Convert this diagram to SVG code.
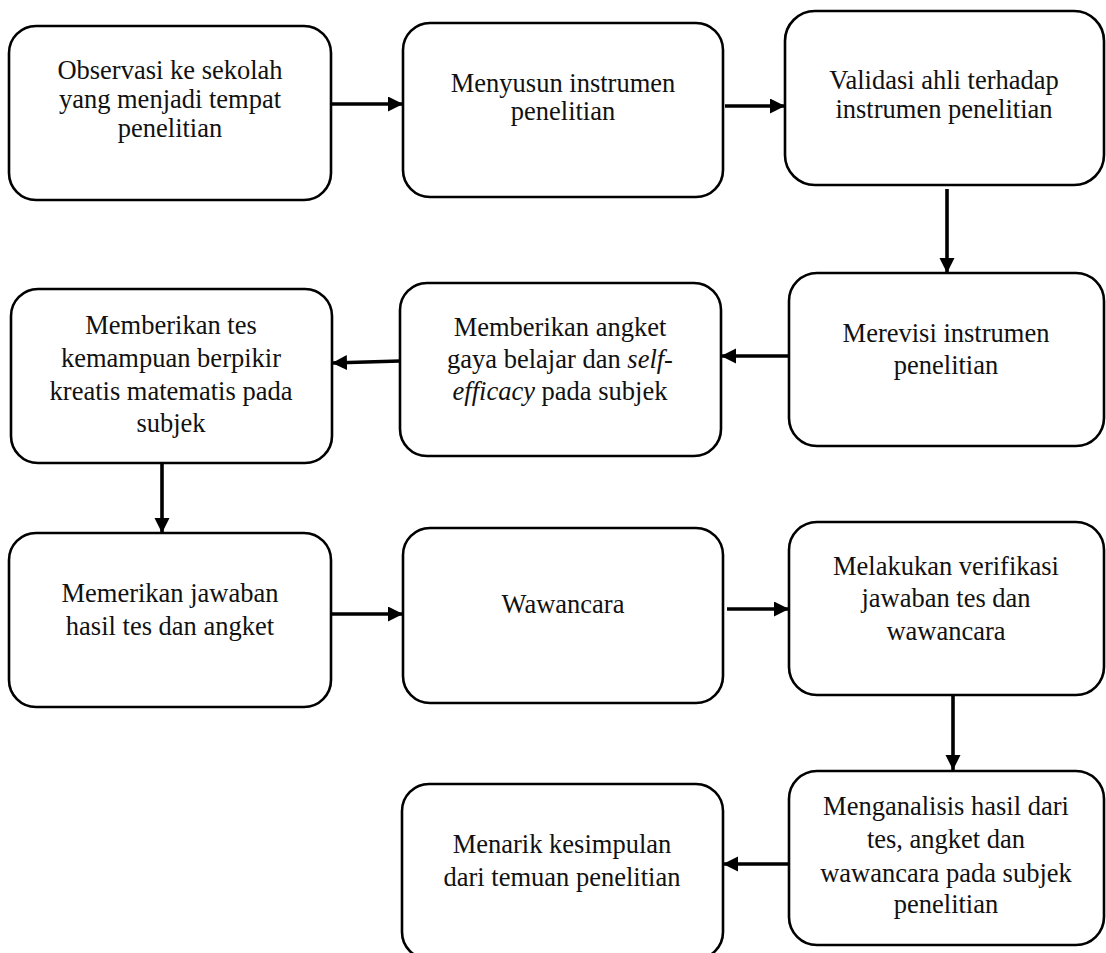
<svg xmlns="http://www.w3.org/2000/svg" width="1106" height="953" viewBox="0 0 1106 953">
<style>
.box{fill:#fff;stroke:#000;stroke-width:2.6}
.lbl{font-family:"Liberation Serif","Times New Roman",serif;font-size:26.5px;fill:#111;text-anchor:middle}
.con{stroke:#000;stroke-width:3.6;fill:none}
.it{font-style:italic}
</style>
<defs>
<marker id="ah" markerUnits="userSpaceOnUse" markerWidth="16" markerHeight="16" refX="15" refY="7.5" orient="auto">
<path d="M0,0 L15,7.5 L0,15 Z" fill="#000"/>
</marker>
</defs>
<rect width="1106" height="953" fill="#fff"/>
<g id="connectors">
<line class="con" x1="331" y1="104" x2="403" y2="104" marker-end="url(#ah)"/>
<line class="con" x1="725" y1="106" x2="785" y2="106" marker-end="url(#ah)"/>
<line class="con" x1="947" y1="189" x2="947" y2="273" marker-end="url(#ah)"/>
<line class="con" x1="789" y1="356" x2="721" y2="356" marker-end="url(#ah)"/>
<line class="con" x1="400" y1="361" x2="332" y2="363" marker-end="url(#ah)"/>
<line class="con" x1="162" y1="463" x2="162" y2="533" marker-end="url(#ah)"/>
<line class="con" x1="331" y1="614" x2="403" y2="614" marker-end="url(#ah)"/>
<line class="con" x1="727" y1="609" x2="789" y2="609" marker-end="url(#ah)"/>
<line class="con" x1="953" y1="695" x2="953" y2="770" marker-end="url(#ah)"/>
<line class="con" x1="789" y1="864" x2="723" y2="864" marker-end="url(#ah)"/>
</g>
<g id="n1"><rect class="box" x="9" y="26" width="322" height="174" rx="27"/>
<text class="lbl" x="170" y="79">Observasi ke sekolah</text>
<text class="lbl" x="170" y="108">yang menjadi tempat</text>
<text class="lbl" x="170" y="137">penelitian</text></g>
<g id="n2"><rect class="box" x="403" y="23" width="320" height="174" rx="27"/>
<text class="lbl" x="563" y="92">Menyusun instrumen</text>
<text class="lbl" x="563" y="120">penelitian</text></g>
<g id="n3"><rect class="box" x="785" y="11" width="319" height="174" rx="30"/>
<text class="lbl" x="944" y="89">Validasi ahli terhadap</text>
<text class="lbl" x="944" y="118">instrumen penelitian</text></g>
<g id="n4"><rect class="box" x="789" y="273" width="315" height="173" rx="28"/>
<text class="lbl" x="946" y="342">Merevisi instrumen</text>
<text class="lbl" x="946" y="374">penelitian</text></g>
<g id="n5"><rect class="box" x="400" y="283" width="321" height="173" rx="27"/>
<text class="lbl" x="560" y="336">Memberikan angket</text>
<text class="lbl" x="560" y="368">gaya belajar dan <tspan class="it">self-</tspan></text>
<text class="lbl" x="560" y="400"><tspan class="it">efficacy</tspan> pada subjek</text></g>
<g id="n6"><rect class="box" x="11" y="289" width="321" height="174" rx="27"/>
<text class="lbl" x="171" y="334">Memberikan tes</text>
<text class="lbl" x="171" y="367">kemampuan berpikir</text>
<text class="lbl" x="171" y="400">kreatis matematis pada</text>
<text class="lbl" x="171" y="432">subjek</text></g>
<g id="n7"><rect class="box" x="9" y="533" width="322" height="174" rx="27"/>
<text class="lbl" x="170" y="602">Memerikan jawaban</text>
<text class="lbl" x="170" y="635">hasil tes dan angket</text></g>
<g id="n8"><rect class="box" x="403" y="528" width="320" height="175" rx="27"/>
<text class="lbl" x="563" y="613">Wawancara</text></g>
<g id="n9"><rect class="box" x="789" y="522" width="315" height="173" rx="28"/>
<text class="lbl" x="946" y="575">Melakukan verifikasi</text>
<text class="lbl" x="946" y="607">jawaban tes dan</text>
<text class="lbl" x="946" y="640">wawancara</text></g>
<g id="n10"><rect class="box" x="789" y="771" width="315" height="174" rx="28"/>
<text class="lbl" x="946" y="815">Menganalisis hasil dari</text>
<text class="lbl" x="946" y="848">tes, angket dan</text>
<text class="lbl" x="946" y="882">wawancara pada subjek</text>
<text class="lbl" x="946" y="913">penelitian</text></g>
<g id="n11"><rect class="box" x="402" y="784" width="321" height="175" rx="27"/>
<text class="lbl" x="562" y="853">Menarik kesimpulan</text>
<text class="lbl" x="562" y="886">dari temuan penelitian</text></g>
</svg>
